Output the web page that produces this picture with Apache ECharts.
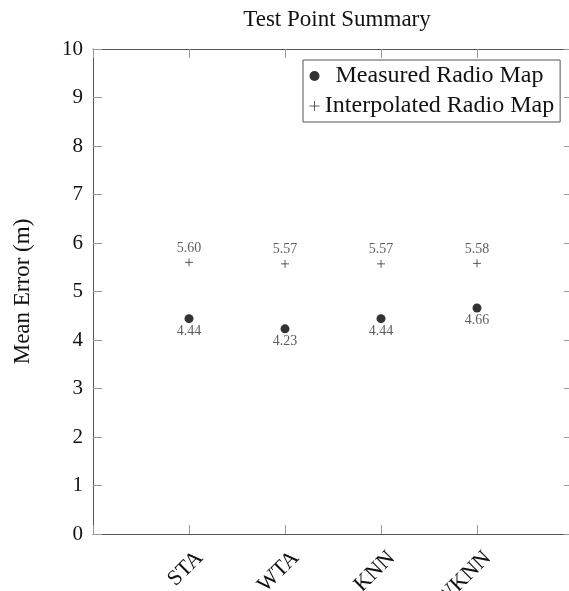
<!DOCTYPE html>
<html><head><meta charset="utf-8">
<script src="https://cdn.jsdelivr.net/npm/echarts@6/dist/echarts.min.js"></script>
<style>html,body{margin:0;padding:0;background:#fff}#c{width:569px;height:591px}</style>
</head><body><div id="c"></div>
<script>
const categories = ['STA', 'WTA', 'KNN', 'WKNN'];
const measured = [4.44, 4.23, 4.44, 4.66];
const interpolated = [5.60, 5.57, 5.57, 5.58];
const yTicks = [0, 1, 2, 3, 4, 5, 6, 7, 8, 9, 10];

const FONT = '"Liberation Serif", "Times New Roman", serif';
const plus = 'path://M5,0L5,10M0,5L10,5';
const chart = echarts.init(document.getElementById('c'));
const axisLine = {show: true, onZero: false, lineStyle: {color: '#555', width: 1}};
const tick = {show: true, inside: true, length: 9, lineStyle: {color: '#999', width: 1}};
chart.setOption({
  animation: false,
  backgroundColor: '#fff',
  title: {text: 'Test Point Summary', left: 332, textAlign: 'center', top: 3,
    textStyle: {fontFamily: FONT, fontWeight: 'normal', fontSize: 23, color: '#111'}},
  grid: {left: 93, top: 49, width: 480, height: 485, outerBoundsMode: 'none', containLabel: false},
  legend: {
    orient: 'vertical', left: 303, top: 60, padding: [4, 6, 4, 4], itemGap: 6,
    borderColor: '#555', borderWidth: 1, itemWidth: 10, itemHeight: 10,
    formatter: name => '{c|' + name + '}',
    textStyle: {fontFamily: FONT, fontSize: 24, color: '#111',
      rich: {c: {fontFamily: FONT, fontSize: 24, color: '#111', width: 230, align: 'center'}}},
    data: [
      {name: 'Measured Radio Map', icon: 'circle', itemStyle: {color: '#000'}},
      {name: 'Interpolated Radio Map', icon: plus, itemStyle: {color: 'none', borderColor: '#333', borderWidth: 1}}
    ]
  },
  xAxis: [
    {type: 'value', min: 0, max: categories.length + 1, interval: 1, position: 'bottom',
      axisLine: axisLine, axisTick: tick, splitLine: {show: false},
      axisLabel: {rotate: 45, fontFamily: FONT, fontSize: 22, color: '#111', margin: 10,
        verticalAlign: 'top', padding: [4, 0, 0, 0],
        formatter: v => categories[v - 1] || ''}},
    {type: 'value', min: 0, max: categories.length + 1, interval: 1, position: 'top',
      axisLine: axisLine, axisTick: tick, splitLine: {show: false}, axisLabel: {show: false}}
  ],
  yAxis: [
    {type: 'value', min: yTicks[0], max: yTicks[yTicks.length - 1], interval: 1, position: 'left',
      name: 'Mean Error (m)', nameLocation: 'middle', nameGap: 59,
      nameTextStyle: {fontFamily: FONT, fontSize: 23, color: '#111'},
      axisLine: axisLine, axisTick: tick, splitLine: {show: false},
      axisLabel: {fontFamily: FONT, fontSize: 21, color: '#111', margin: 10}},
    {type: 'value', min: yTicks[0], max: yTicks[yTicks.length - 1], interval: 1, position: 'right',
      axisLine: axisLine, axisTick: tick, splitLine: {show: false}, axisLabel: {show: false}}
  ],
  series: [
    {name: 'Measured Radio Map', type: 'scatter', symbol: 'circle', symbolSize: 9,
      itemStyle: {color: '#000'},
      data: measured.map((v, i) => [i + 1, v]),
      label: {show: true, position: 'bottom', distance: 1, fontFamily: FONT, fontSize: 14, color: '#333',
        formatter: p => p.value[1].toFixed(2)}},
    {name: 'Interpolated Radio Map', type: 'scatter', symbol: plus, symbolSize: 8,
      itemStyle: {color: 'none', borderColor: '#333', borderWidth: 1},
      data: interpolated.map((v, i) => [i + 1, v]),
      label: {show: true, position: 'top', distance: 1, fontFamily: FONT, fontSize: 14, color: '#333',
        formatter: p => p.value[1].toFixed(2)}}
  ]
});
</script></body></html>
